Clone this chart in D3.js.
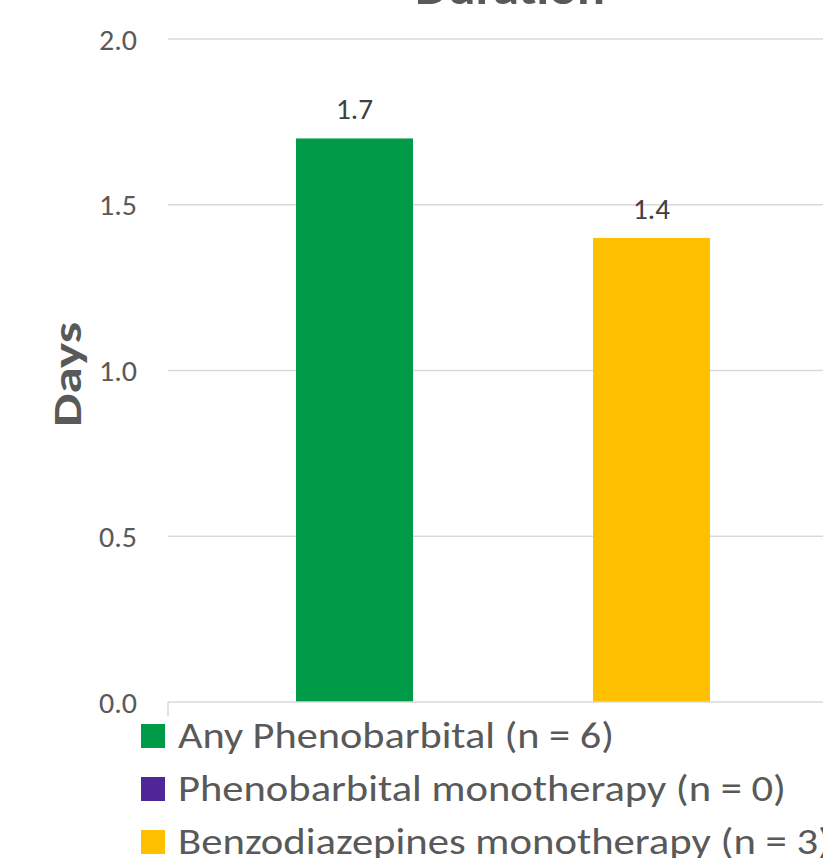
<!DOCTYPE html>
<html><head><meta charset="utf-8">
<script src="https://cdn.jsdelivr.net/npm/d3@7"></script>
<style>body{margin:0;background:#fff}svg{display:block}text{font-family:Carlito,Lato,"Open Sans",sans-serif}</style>
</head><body><svg id="c" width="823" height="858"></svg>
<script>
const title = "Duration";
const yTitle = "Days";
const series = ["Any Phenobarbital (n = 6)", "Phenobarbital monotherapy (n = 0)", "Benzodiazepines monotherapy (n = 3)"];
const values = [1.7, null, 1.4];
const colors = ["#009B48", "#512698", "#FFC000"];
const barOrder = ["Any Phenobarbital (n = 6)", "Benzodiazepines monotherapy (n = 3)", "Phenobarbital monotherapy (n = 0)"];
const yTicks = [0, 0.5, 1.0, 1.5, 2.0];

const svg = d3.select("#c");
const y = d3.scaleLinear().domain([0, 2]).range([702, 39]);
const x = d3.scaleBand().domain(barOrder).range([168, 1135]).paddingInner(0.606).paddingOuter(0.431);
const fmt = d3.format(".1f");

svg.append("text").attr("x", 510).attr("y", 4).attr("text-anchor", "middle")
  .attr("font-size", 48).attr("font-weight", "bold").attr("fill", "#595959")
  .attr("textLength", 190).attr("lengthAdjust", "spacingAndGlyphs").text(title);

svg.append("g").selectAll("line").data(yTicks.filter(d => d > 0)).join("line")
  .attr("x1", 168).attr("x2", 823).attr("y1", d => y(d)).attr("y2", d => y(d))
  .attr("stroke", "#d9d9d9").attr("stroke-width", 1.5);

const yAxis = d3.axisLeft(y).tickValues(yTicks).tickFormat(fmt).tickSize(0).tickPadding(0);
const ga = svg.append("g").attr("transform", "translate(137,0)").call(yAxis);
ga.select(".domain").remove();
ga.selectAll("text").attr("font-size", 28).attr("fill", "#595959")
  .attr("font-family", "Carlito,Lato,sans-serif").attr("dy", "0.36em")
  .attr("textLength", 38).attr("lengthAdjust", "spacingAndGlyphs");

const bars = series.map((s, i) => ({s, v: values[i], c: colors[i]})).filter(d => d.v != null);

svg.append("g").selectAll("rect").data(bars).join("rect")
  .attr("x", d => x(d.s)).attr("width", x.bandwidth())
  .attr("y", d => y(d.v)).attr("height", d => y(0) - y(d.v)).attr("fill", d => d.c);

svg.append("g").selectAll("text").data(bars).join("text")
  .attr("x", d => x(d.s) + x.bandwidth() / 2).attr("y", d => y(d.v) - 19)
  .attr("text-anchor", "middle").attr("font-size", 29).attr("fill", "#404040")
  .attr("textLength", 37).attr("lengthAdjust", "spacingAndGlyphs")
  .text(d => fmt(d.v));

svg.append("line").attr("x1", 168).attr("x2", 823).attr("y1", y(0)).attr("y2", y(0)).attr("stroke", "#d9d9d9").attr("stroke-width", 1.5);
svg.append("line").attr("x1", 168).attr("x2", 168).attr("y1", y(0)).attr("y2", y(0) + 14).attr("stroke", "#d9d9d9").attr("stroke-width", 1.5);

svg.append("text").attr("transform", "translate(81,374.5) rotate(-90)").attr("text-anchor", "middle")
  .attr("font-size", 40).attr("font-weight", "900").attr("fill", "#595959")
  .attr("textLength", 105).attr("lengthAdjust", "spacingAndGlyphs").text(yTitle);

const legendLen = [436, 608, 653];
const lg = svg.append("g").selectAll("g").data(series).join("g")
  .attr("transform", (d, i) => `translate(141,${724 + i * 53})`);
lg.append("rect").attr("width", 24).attr("height", 24).attr("fill", (d, i) => colors[i]);
lg.append("text").attr("x", 37).attr("y", 24).attr("font-size", 36).attr("fill", "#595959")
  .attr("textLength", (d, i) => legendLen[i]).attr("lengthAdjust", "spacingAndGlyphs").text(d => d);
</script></body></html>
